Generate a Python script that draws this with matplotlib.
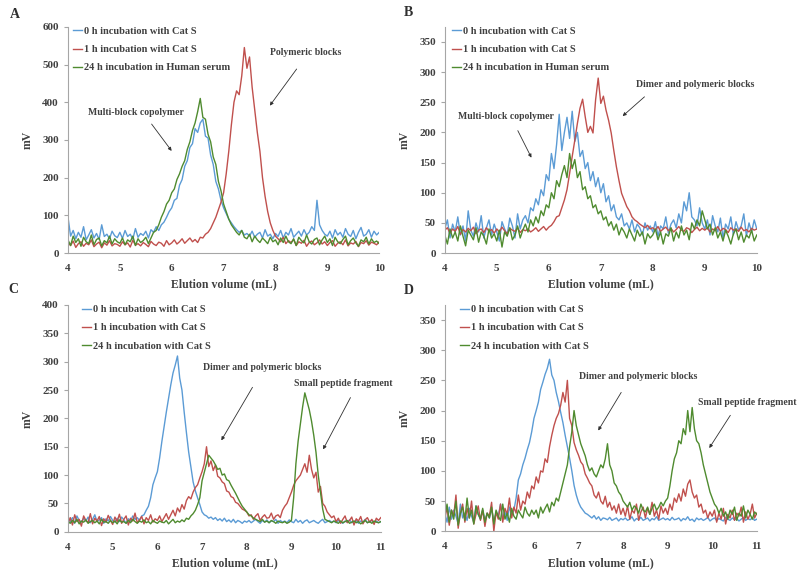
import numpy as np
import matplotlib.pyplot as plt
import matplotlib as mpl

mpl.rcParams["font.family"] = ["Liberation Serif", "DejaVu Serif"]
mpl.rcParams["font.weight"] = "bold"

# elution grids (mL)
vol_ab = np.linspace(4, 10, 121)
vol_cd = np.linspace(4, 11, 141)

# ---- panel A (mV) ----
a_0h = [95, 45, 60, 38, 55, 42, 70, 35, 48, 62, 40, 52, 36, 75, 44, 50, 38, 58, 46, 41,
        55, 39, 60, 44, 50, 37, 65, 42, 52, 47, 58, 40, 62, 55, 70, 60, 75, 82, 95, 110,
        120, 140, 145, 180, 195, 230, 245, 280, 290, 330, 320, 345, 355, 310, 305, 260, 235, 190, 170, 140,
        120, 105, 90, 80, 70, 62, 55, 60, 48, 52, 45, 58, 42, 50, 55, 40, 62, 45, 50, 38,
        52, 44, 60, 40, 55, 48, 65, 42, 50, 58, 45, 62, 48, 55, 70, 60, 140, 75, 60, 50,
        45, 58, 40, 62, 48, 55, 42, 65, 50, 44, 60, 38, 55, 68, 45, 50, 62, 42, 58, 48,
        55]
a_1h = [28, 20, 32, 15, 25, 30, 18, 26, 22, 35, 17, 24, 29, 14, 27, 21, 33, 19, 25, 23,
        18, 30, 22, 27, 16, 34, 21, 25, 19, 28, 23, 17, 31, 24, 20, 29, 26, 18, 33, 22,
        27, 35, 24, 30, 38, 26, 33, 40, 30, 36, 28, 42, 40, 50, 55, 65, 80, 95, 115, 135,
        160, 210, 270, 340, 400, 430, 420, 470, 545, 490, 520, 440, 380, 320, 270, 200, 150, 110, 80, 60,
        45, 38, 30, 42, 25, 33, 28, 36, 20, 30, 26, 34, 18, 28, 32, 22, 27, 35, 24, 30,
        20, 28, 33, 18, 26, 30, 22, 35, 19, 27, 24, 31, 17, 28, 25, 33, 21, 29, 26, 22,
        30]
a_24h = [35, 20, 45, 28, 38, 18, 42, 30, 25, 48, 22, 36, 40, 19, 33, 27, 45, 24, 38, 30,
         26, 40, 22, 35, 30, 45, 20, 38, 28, 33, 42, 25, 40, 55, 60, 75, 95, 110, 130, 140,
         160, 170, 195, 210, 230, 245, 275, 295, 325, 345, 375, 410, 360, 355, 315, 295, 255, 235, 190, 165,
         130, 110, 90, 75, 65, 55, 48, 60, 42, 38, 50, 30, 45, 35, 28, 40, 33, 25, 42, 30,
         35, 22, 40, 28, 45, 30, 25, 38, 20, 42, 33, 27, 48, 30, 24, 36, 40, 22, 35, 45,
         28, 38, 20, 42, 30, 25, 36, 45, 22, 33, 40, 27, 18, 35, 30, 42, 24, 38, 28, 32,
         25]

# ---- panel B ----
b_0h = [40, 55, 25, 48, 35, 60, 30, 45, 20, 70, 38, 28, 50, 35, 62, 25, 42, 55, 30, 48,
        35, 20, 52, 40, 30, 58, 45, 25, 65, 40, 55, 62, 50, 75, 70, 90, 80, 105, 95, 130,
        120, 165, 140, 180, 230, 170, 200, 225, 190, 235, 185, 200, 160, 170, 140, 150, 120, 135, 110, 125,
        100, 115, 85, 95, 70, 80, 60, 55, 65, 45, 50, 40, 55, 35, 48, 42, 30, 50, 38, 45,
        35, 52, 28, 45, 40, 60, 33, 48, 55, 42, 65, 50, 85, 70, 100, 60, 55, 45, 75, 50,
        40, 55, 30, 62, 45, 35, 58, 25, 48, 40, 60, 30, 52, 38, 45, 65, 28, 50, 35, 55,
        40]
b_1h = [38, 42, 33, 40, 36, 44, 31, 39, 35, 41, 37, 43, 32, 38, 40, 34, 42, 36, 39, 33,
        40, 35, 43, 37, 32, 41, 38, 36, 42, 34, 39, 37, 40, 35, 38, 42, 36, 40, 44, 38,
        43, 46, 52, 60, 62, 75, 88, 105, 132, 160, 187, 215, 240, 255, 226, 200, 210, 199, 254, 290,
        248, 260, 237, 220, 199, 170, 143, 120, 99, 88, 77, 70, 60, 55, 52, 48, 45, 42, 46, 40,
        42, 38, 44, 36, 40, 43, 37, 41, 35, 39, 44, 38, 36, 42, 40, 34, 39, 43, 37, 41,
        38, 42, 35, 40, 37, 44, 36, 41, 39, 34, 42, 38, 40, 36, 43, 37, 39, 35, 41, 38,
        40]
b_24h = [30, 15, 40, 25, 35, 20, 45, 28, 12, 38, 30, 22, 42, 18, 35, 28, 15, 40, 25, 32,
         20, 38, 10, 35, 28, 42, 22, 30, 45, 25, 38, 48, 35, 55, 45, 60, 50, 70, 62, 80,
         75, 100, 90, 120, 110, 130, 145, 125, 165, 140, 155, 125, 135, 105, 110, 90, 95, 75, 80, 65,
         70, 55, 60, 45, 52, 38, 48, 30, 42, 35, 25, 40, 30, 20, 38, 28, 35, 15, 32, 25,
         30, 40, 22, 35, 15, 32, 28, 42, 20, 35, 25, 45, 30, 38, 22, 50, 40, 55, 45, 70,
         55, 40, 48, 30, 42, 25, 35, 20, 38, 28, 15, 32, 40, 22, 35, 18, 30, 25, 38, 20,
         30]

# ---- panel C ----
c_0h = [22, 18, 25, 15, 28, 20, 17, 24, 19, 26, 16, 22, 30, 18, 21, 25, 15, 23, 19, 27,
        20, 17, 24, 18, 26, 21, 15, 23, 19, 28, 22, 25, 20, 28, 30, 38, 45, 60, 83, 95,
        106, 130, 159, 185, 211, 235, 259, 280, 294, 310, 271, 250, 211, 175, 141, 115, 88, 72, 60, 48,
        35, 30, 28, 24, 26, 22, 25, 20, 23, 19, 24, 18, 21, 17, 22, 16, 20, 18, 15, 19,
        17, 20, 16, 19, 22, 18, 15, 20, 17, 21, 16, 19, 18, 22, 15, 20, 17, 19, 16, 21,
        18, 16, 22, 17, 20, 15, 19, 21, 16, 18, 20, 17, 15, 19, 22, 16, 18, 20, 17, 19,
        16, 20, 18, 15, 19, 17, 21, 16, 18, 20, 15, 19, 17, 22, 16, 18, 20, 17, 19, 16,
        18]
c_1h = [15, 25, 12, 30, 18, 22, 10, 28, 20, 16, 32, 14, 24, 19, 27, 11, 23, 17, 29, 20,
        13, 26, 18, 31, 15, 22, 28, 12, 24, 19, 33, 16, 21, 27, 14, 25, 20, 30, 17, 23,
        20, 28, 18, 25, 32, 22, 30, 38, 28, 42, 35, 48, 40, 55, 62, 58, 70, 78, 83, 95,
        106, 120, 150, 115, 125, 108, 118, 98, 95, 88, 85, 72, 70, 62, 60, 52, 50, 45, 40, 38,
        35, 28, 30, 22, 28, 32, 20, 26, 30, 24, 25, 33, 22, 28, 30, 25, 38, 45, 50, 60,
        70, 82, 90, 95, 100, 110, 120, 105, 135, 110, 95, 105, 70, 80, 50, 45, 35, 30, 25, 28,
        18, 24, 15, 22, 28, 16, 20, 26, 12, 23, 19, 27, 14, 21, 25, 17, 22, 13, 24, 20,
        25]
c_24h = [18, 15, 20, 16, 22, 14, 19, 17, 21, 15, 18, 20, 16, 19, 14, 22, 17, 18, 15, 20,
         16, 19, 14, 21, 17, 18, 15, 20, 16, 22, 18, 15, 19, 17, 21, 16, 18, 14, 20, 17,
         15, 19, 17, 16, 20, 14, 18, 22, 16, 19, 17, 21, 18, 24, 22, 28, 32, 38, 48, 60,
         90, 105, 120, 135, 130, 125, 118, 110, 112, 100, 102, 92, 90, 82, 75, 68, 60, 52, 45, 40,
         35, 30, 28, 24, 22, 20, 18, 22, 17, 19, 16, 20, 18, 15, 19, 17, 16, 18, 15, 17,
         20, 60, 120, 160, 190, 220, 245, 230, 215, 195, 170, 140, 100, 70, 40, 22, 20, 18, 16, 19,
         17, 15, 19, 16, 18, 20, 15, 17, 19, 16, 18, 14, 17, 20, 16, 18, 15, 19, 17, 16,
         18]

# ---- panel D ----
d_0h = [30, 15, 40, 20, 35, 25, 12, 45, 22, 30, 18, 38, 25, 15, 42, 28, 20, 35, 18, 30,
        22, 38, 15, 30, 25, 45, 20, 32, 18, 40, 28, 35, 55, 85, 95, 110, 121, 135, 147, 165,
        187, 200, 214, 235, 247, 260, 270, 285, 259, 250, 230, 215, 197, 180, 159, 140, 121, 100, 76, 60,
        48, 40, 35, 30, 28, 25, 22, 26, 20, 24, 18, 22, 21, 19, 23, 18, 20, 22, 17, 21,
        19, 22, 18, 20, 24, 17, 21, 19, 23, 18, 20, 22, 17, 21, 19, 24, 18, 20, 22, 19,
        21, 18, 23, 19, 20, 22, 17, 21, 19, 24, 18, 20, 16, 22, 19, 21, 18, 20, 23, 17,
        20, 22, 18, 21, 19, 17, 23, 20, 18, 22, 19, 21, 17, 20, 23, 18, 21, 19, 22, 18,
        20]
d_1h = [20, 40, 10, 35, 25, 60, 5, 30, 45, 15, 38, 22, 50, 12, 28, 42, 18, 35, 8, 30,
        25, 48, 0, 32, 20, 45, 15, 38, 28, 55, 22, 40, 30, 60, 35, 50, 45, 65, 55, 75,
        70, 90, 80, 100, 98, 120, 114, 140, 159, 175, 187, 195, 209, 230, 214, 250, 187, 175, 147, 135,
        126, 115, 110, 95, 88, 80, 75, 60, 55, 65, 50, 45, 58, 40, 48, 35, 42, 30, 45, 28,
        38, 25, 42, 20, 35, 30, 45, 18, 32, 40, 22, 38, 28, 48, 25, 35, 20, 42, 30, 38,
        28, 45, 35, 55, 48, 62, 50, 70, 58, 78, 85, 65, 55, 60, 40, 45, 30, 35, 22, 32,
        25, 35, 15, 30, 20, 38, 12, 28, 22, 35, 18, 30, 25, 40, 15, 32, 20, 28, 45, 22,
        30]
d_24h = [25, 45, 15, 35, 20, 50, 10, 30, 40, 18, 55, 22, 35, 12, 42, 28, 20, 38, 15, 30,
         22, 40, 12, 35, 25, 18, 45, 20, 30, 15, 38, 25, 20, 35, 28, 22, 40, 30, 25, 35,
         28, 35, 22, 40, 30, 38, 45, 32, 48, 42, 55, 50, 65, 80, 95, 110, 140, 165, 200, 175,
         160, 145, 135, 125, 110, 100, 105, 95, 90, 100, 110, 105, 120, 145, 110, 100, 80, 75, 65, 60,
         50, 45, 40, 48, 35, 42, 38, 30, 45, 35, 32, 40, 28, 38, 45, 35, 40, 48, 42, 50,
         55, 75, 100, 120, 130, 150, 145, 170, 160, 200, 165, 205, 170, 150, 145, 130, 110, 95, 80, 65,
         55, 45, 40, 30, 38, 25, 32, 20, 35, 28, 40, 18, 30, 25, 42, 22, 35, 28, 20, 32,
         28]

lab_0h = "0 h incubation with Cat S"
lab_1h = "1 h incubation with Cat S"
lab_serum = "24 h incubation in Human serum"
lab_24h = "24 h incubation with Cat S"

blue, red, green = "#5b9bd5", "#c0504d", "#4f8b2f"
txt = "#404040"

fig = plt.figure(figsize=(8, 5.7), dpi=100)
axA = fig.add_axes([0.085, 0.556, 0.389, 0.397])
axB = fig.add_axes([0.556, 0.556, 0.39, 0.397])
axC = fig.add_axes([0.085, 0.067, 0.391, 0.398])
axD = fig.add_axes([0.556, 0.068, 0.39, 0.397])


def style(ax, xmax, ymax, yticks):
    for s in ["top", "right"]:
        ax.spines[s].set_visible(False)
    for s in ["left", "bottom"]:
        ax.spines[s].set_color("#a6a6a6")
        ax.spines[s].set_linewidth(0.8)
    ax.set_xlim(4, xmax)
    ax.set_ylim(0, ymax)
    ax.set_xticks(range(4, xmax + 1))
    ax.set_yticks(yticks)
    ax.tick_params(axis="x", length=0, pad=8, labelsize=8, labelcolor=txt)
    ax.tick_params(axis="y", length=3, width=0.8, color="#a6a6a6", labelsize=8, labelcolor=txt)
    ax.set_xlabel("Elution volume (mL)", fontsize=8.5, fontweight="bold", color=txt, labelpad=4)
    ax.set_ylabel("mV", fontsize=8.5, fontweight="bold", color=txt, labelpad=6)


def traces(ax, x, series, labels, anchor):
    for y, c, lab in zip(series, [blue, red, green], labels):
        ax.plot(x, y, color=c, lw=1.0, label=lab)
    ax.legend(loc="upper left", bbox_to_anchor=anchor, frameon=False,
              handlelength=0.9, handletextpad=0.15, labelspacing=0.85,
              borderpad=0, borderaxespad=0, labelcolor=txt,
              prop={"weight": "bold", "size": 7.5})


def note(ax, text, txy, start, end):
    ax.text(txy[0], txy[1], text, ha="center", va="center", fontsize=7,
            fontweight="bold", color=txt, clip_on=False)
    ax.annotate("", xy=end, xytext=start,
                arrowprops=dict(arrowstyle="-|>", color="#303030", lw=0.6, mutation_scale=5))


traces(axA, vol_ab, [a_0h, a_1h, a_24h], [lab_0h, lab_1h, lab_serum], (0.016, 1.0))
style(axA, 10, 600, range(0, 601, 100))
note(axA, "Multi-block copolymer", (5.31, 374), (5.58, 348), (6.03, 265))
note(axA, "Polymeric blocks", (8.59, 533), (8.44, 494), (7.86, 385))

traces(axB, vol_ab, [b_0h, b_1h, b_24h], [lab_0h, lab_1h, lab_serum], (0.022, 1.0))
style(axB, 10, 375, range(0, 351, 50))
note(axB, "Multi-block copolymer", (5.17, 226), (5.38, 207), (5.69, 154))
note(axB, "Dimer and polymeric blocks", (8.81, 279), (7.88, 262), (7.38, 224))

traces(axC, vol_cd, [c_0h, c_1h, c_24h], [lab_0h, lab_1h, lab_24h], (0.045, 1.0))
style(axC, 11, 400, range(0, 401, 50))
note(axC, "Dimer and polymeric blocks", (8.34, 289), (8.16, 259), (7.40, 157))
note(axC, "Small peptide fragment", (10.15, 262), (10.35, 241), (9.68, 141))

traces(axD, vol_cd, [d_0h, d_1h, d_24h], [lab_0h, lab_1h, lab_24h], (0.048, 1.0))
style(axD, 11, 375, range(0, 351, 50))
note(axD, "Dimer and polymeric blocks", (8.35, 257), (7.99, 234), (7.41, 163))
note(axD, "Small peptide fragment", (10.78, 214), (10.44, 196), (9.90, 134))

for lt, xy in zip("ABCD", [(0.012, 0.975), (0.505, 0.978), (0.01, 0.492), (0.505, 0.49)]):
    fig.text(xy[0], xy[1], lt, fontsize=10, fontweight="bold", color="#303030", va="center")

fig.savefig("out.png", dpi=100)
